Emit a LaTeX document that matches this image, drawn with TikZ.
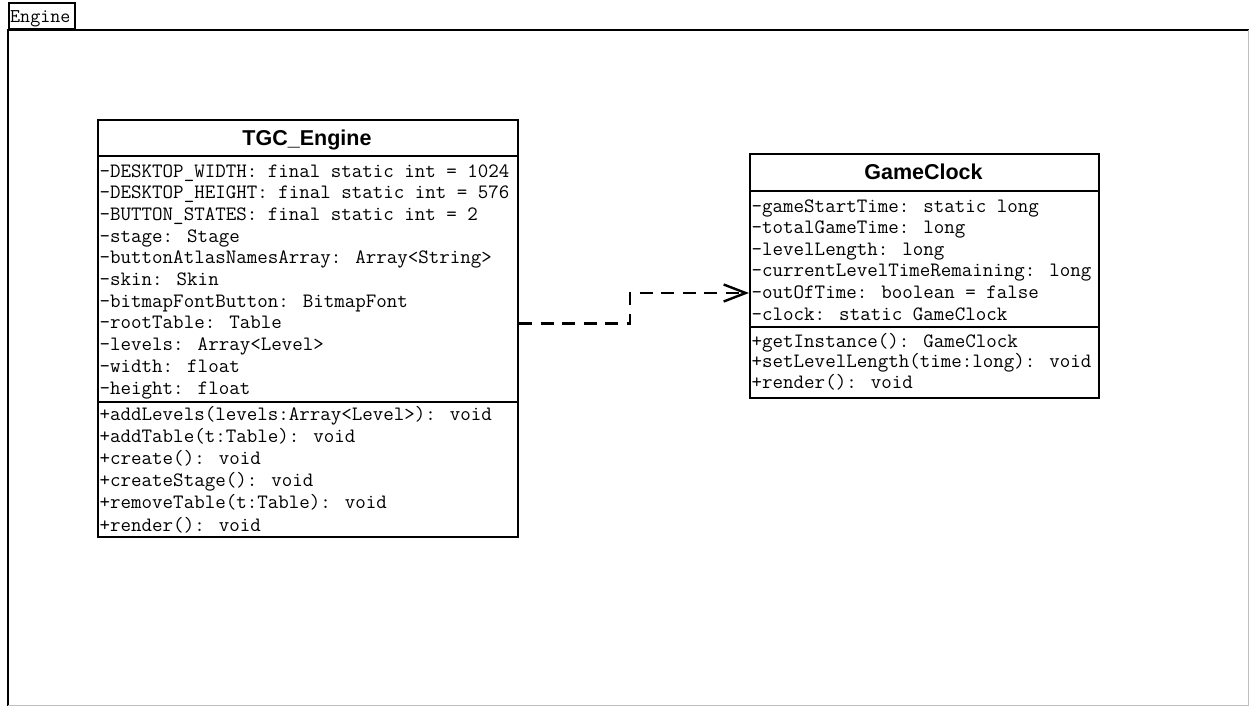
\documentclass[tikz,border=0pt]{standalone}
\usepackage{fontspec}
\setmainfont{Liberation Sans}
\setsansfont{Liberation Sans}
\usetikzlibrary{arrows.meta}

\tikzset{
  frameline/.style={line width=2pt},
  classbox/.style={draw, line width=2pt, inner sep=0pt, anchor=north west},
  sepline/.style={line width=2pt},
  classtitle/.style={anchor=base, inner sep=0pt,
    font=\sffamily\bfseries\fontsize{21.5}{24}\selectfont},
  member/.style={anchor=base west, inner sep=0pt,
    font=\ttfamily\fontsize{20.4}{22}\selectfont},
  tabtext/.style={anchor=base west, inner sep=0pt,
    font=\ttfamily\fontsize{19.5}{22}\selectfont},
  dependency/.style={line width=2.6pt, dash pattern=on 13pt off 8.6pt,
    -{Straight Barb[length=22pt,width=17pt,line width=2.4pt]}},
}

\begin{document}
\begin{tikzpicture}[x=1pt, y=-1pt]
  \useasboundingbox (0,0) rectangle (1249,706);

  % package frame with its name tab
  \node[draw, line width=2pt, inner sep=0pt, minimum width=66pt,
        minimum height=26pt, anchor=south west] (tab) at (8,30) {};
  \node[tabtext] (tabname) at (10,23) {Engine};
  \draw[frameline] (8,706) -- (8,30) -- (1252,30);
  \draw[black!25, line width=1pt] (1248.5,30) -- (1248.5,705.5) -- (8,705.5);

  % class TGC_Engine
  \node[classbox, minimum width=420pt, minimum height=417pt] (tgc) at (97,119) {};
  \draw[sepline] (97,156) -- (517,156);
  \draw[sepline] (97,402) -- (517,402);
  \node[classtitle] (tgcname) at (307,145.5) {TGC\_Engine};
  \foreach \txt [count=\i from 0] in {
      -DESKTOP\_WIDTH: final static int = 1024,
      -DESKTOP\_HEIGHT: final static int = 576,
      -BUTTON\_STATES: final static int = 2,
      -stage: Stage,
      -buttonAtlasNamesArray: Array<String>,
      -skin: Skin,
      -bitmapFontButton: BitmapFont,
      -rootTable: Table,
      -levels: Array<Level>,
      -width: float,
      -height: float}
    \node[member] (tgcattr\i) at (99.5,177+21.7*\i) {\txt};
  \foreach \txt [count=\i from 0] in {
      +addLevels(levels:Array<Level>): void,
      +addTable(t:Table): void,
      +create(): void,
      +createStage(): void,
      +removeTable(t:Table): void,
      +render(): void}
    \node[member] (tgcop\i) at (99.5,420+22.2*\i) {\txt};

  % class GameClock
  \node[classbox, minimum width=349pt, minimum height=244pt] (gc) at (749,153) {};
  \draw[sepline] (749,191) -- (1098,191);
  \draw[sepline] (749,327) -- (1098,327);
  \node[classtitle] (gcname) at (923.5,179.7) {GameClock};
  \foreach \txt [count=\i from 0] in {
      -gameStartTime: static long,
      -totalGameTime: long,
      -levelLength: long,
      -currentLevelTimeRemaining: long,
      -outOfTime: boolean = false,
      -clock: static GameClock}
    \node[member] (gcattr\i) at (751.5,212+21.6*\i) {\txt};
  \foreach \txt [count=\i from 0] in {
      +getInstance(): GameClock,
      +setLevelLength(time:long): void,
      +render(): void}
    \node[member] (gcop\i) at (751.5,347+20.7*\i) {\txt};

  % dependency TGC_Engine --> GameClock
  \draw[dependency] ([yshift=4.8pt]tgc.east) -- ++(111,0)
    |- ([yshift=-17pt]gc.west);
\end{tikzpicture}
\end{document}
